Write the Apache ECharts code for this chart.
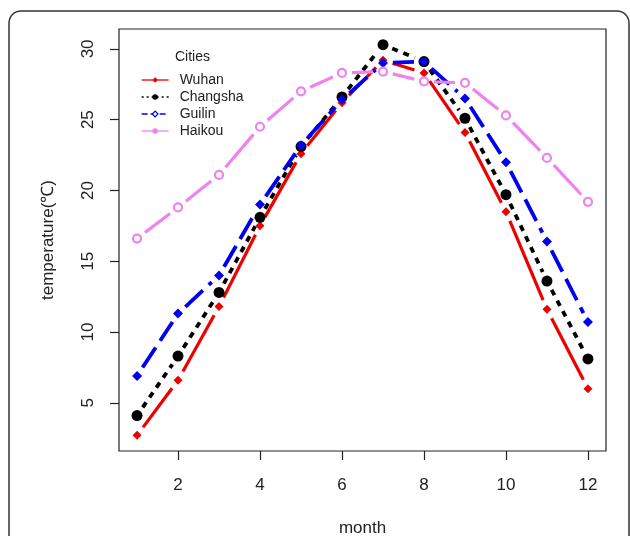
<!DOCTYPE html>
<html>
<head>
<meta charset="utf-8">
<script src="https://cdn.jsdelivr.net/npm/echarts@6/dist/echarts.min.js"></script>
<style>html,body{margin:0;padding:0;background:#fff;}#c{width:630px;height:536px;}</style>
</head>
<body>
<div id="c"></div>
<script>
var months = [1,2,3,4,5,6,7,8,9,10,11,12];
var wuhan    = [2.7, 6.6, 11.8, 17.5, 22.6, 26.2, 29.2, 28.3, 24.1, 18.5, 11.6, 6.0];
var changsha = [4.1, 8.3, 12.8, 18.1, 23.1, 26.6, 30.3, 29.1, 25.1, 19.7, 13.6, 8.1];
var guilin   = [6.9, 11.3, 14.0, 19.0, 23.2, 26.4, 29.0, 29.1, 26.5, 22.0, 16.4, 10.7];
var haikou   = [16.6, 18.8, 21.1, 24.5, 27.0, 28.3, 28.4, 27.7, 27.6, 25.3, 22.3, 19.2];
var cityNames = ['Wuhan', 'Changsha', 'Guilin', 'Haikou'];
var xTicks = [2,4,6,8,10,12];
var yTicks = [5,10,15,20,25,30];

var cityValues = [wuhan, changsha, guilin, haikou];
var styles = [
  {color:'#ee0000', width:3.2, dash:null, symbol:'diamond', size:9, fill:'#ee0000', border:'#ee0000', bw:0, lgDash:'solid'},
  {color:'#000000', width:3.8, dash:[6,6], symbol:'circle', size:11, fill:'#000000', border:'#000000', bw:0, lgDash:[2,3]},
  {color:'#0000ee', width:3.8, dash:[24,8], symbol:'diamond', size:10, fill:'#0000ee', border:'#0000ee', bw:0, lgDash:[6,3]},
  {color:'#ee82ee', width:3.2, dash:null, symbol:'circle', size:8, fill:'#ffffff', border:'#ee82ee', bw:2.2, lgDash:'solid'}
];
var GAP = 10;

var series = [];
var legendData = [];
cityNames.forEach(function(name, k){
  var vals = cityValues[k];
  var st = styles[k];
  series.push({
    name: name,
    type: 'line',
    z: 2 + k*2 + 1,
    data: months.map(function(m, i){ return [m, vals[i]]; }),
    symbol: st.symbol,
    symbolSize: st.size,
    showAllSymbol: true,
    lineStyle: {width: 0, opacity: 0, color: st.color},
    itemStyle: {color: st.fill, borderColor: st.border, borderWidth: st.bw, opacity: 1},
    emphasis: {disabled: true},
    animation: false
  });
  var segs = [];
  for (var i = 0; i < months.length - 1; i++) {
    segs.push([months[i], vals[i], months[i+1], vals[i+1]]);
  }
  series.push({
    name: name,
    type: 'custom',
    z: 2 + k*2,
    data: segs,
    encode: {x: [0, 2], y: [1, 3]},
    animation: false,
    silent: true,
    renderItem: function(params, api){
      var p1 = api.coord([api.value(0), api.value(1)]);
      var p2 = api.coord([api.value(2), api.value(3)]);
      var dx = p2[0]-p1[0], dy = p2[1]-p1[1];
      var L = Math.sqrt(dx*dx+dy*dy);
      if (L <= 2*GAP) return null;
      var ux = dx/L, uy = dy/L;
      return {
        type: 'line',
        shape: {x1: p1[0]+ux*GAP, y1: p1[1]+uy*GAP, x2: p2[0]-ux*GAP, y2: p2[1]-uy*GAP},
        style: {stroke: st.color, lineWidth: st.width, lineDash: st.dash || null, lineCap: 'butt', fill: null}
      };
    }
  });
  legendData.push({
    name: name,
    itemStyle: {color: k === 2 ? '#ffffff' : st.color, borderColor: st.color, borderWidth: k === 2 ? 1.2 : 0},
    lineStyle: {color: st.color, width: 1.3, type: st.lgDash, opacity: 1}
  });
});

var chart = echarts.init(document.getElementById('c'), null, {renderer: 'canvas'});
chart.setOption({
  backgroundColor: '#ffffff',
  animation: false,
  textStyle: {fontFamily: 'Liberation Sans, Arial, sans-serif'},
  graphic: [{
    type: 'rect',
    shape: {x: 9, y: 11, width: 620, height: 600, r: 12},
    style: {fill: null, stroke: '#333333', lineWidth: 1.5},
    silent: true, z: 0
  }],
  title: {
    text: 'Cities', left: 175, top: 50, padding: 0,
    textStyle: {fontSize: 14, fontWeight: 'normal', color: '#222', fontFamily: 'Liberation Sans, Arial, sans-serif'}
  },
  legend: {
    orient: 'vertical', left: 141, top: 73, padding: 0,
    itemWidth: 27, itemHeight: 7, itemGap: 3,
    data: legendData,
    selectedMode: false,
    textStyle: {fontSize: 14, color: '#222', padding: [0,0,0,6], fontFamily: 'Liberation Sans, Arial, sans-serif'}
  },
  grid: {left: 119, top: 29, width: 487, height: 422, show: true, borderColor: '#222', borderWidth: 1.2, backgroundColor: 'transparent', containLabel: false, outerBoundsMode: 'none'},
  xAxis: {
    type: 'value', min: 0.56, max: 12.44,
    name: 'month', nameLocation: 'middle', nameGap: 69,
    nameTextStyle: {fontSize: 17, color: '#222'},
    axisLine: {show: false},
    axisTick: {show: true, inside: false, length: 9, lineStyle: {color: '#222', width: 1.2}, customValues: xTicks},
    axisLabel: {fontSize: 17, color: '#222', margin: 26, customValues: xTicks, showMinLabel: true, showMaxLabel: true},
    splitLine: {show: false}
  },
  yAxis: {
    type: 'value', min: 1.596, max: 31.404,
    name: 'temperature(℃)', nameLocation: 'middle', nameGap: 62, nameRotate: 90,
    nameTextStyle: {fontSize: 17, color: '#222'},
    axisLine: {show: false},
    axisTick: {show: true, inside: false, length: 9, lineStyle: {color: '#222', width: 1.2}, customValues: yTicks},
    axisLabel: {fontSize: 17, color: '#222', margin: 22, rotate: 90, customValues: yTicks},
    splitLine: {show: false}
  },
  series: series
});
</script>
</body>
</html>
